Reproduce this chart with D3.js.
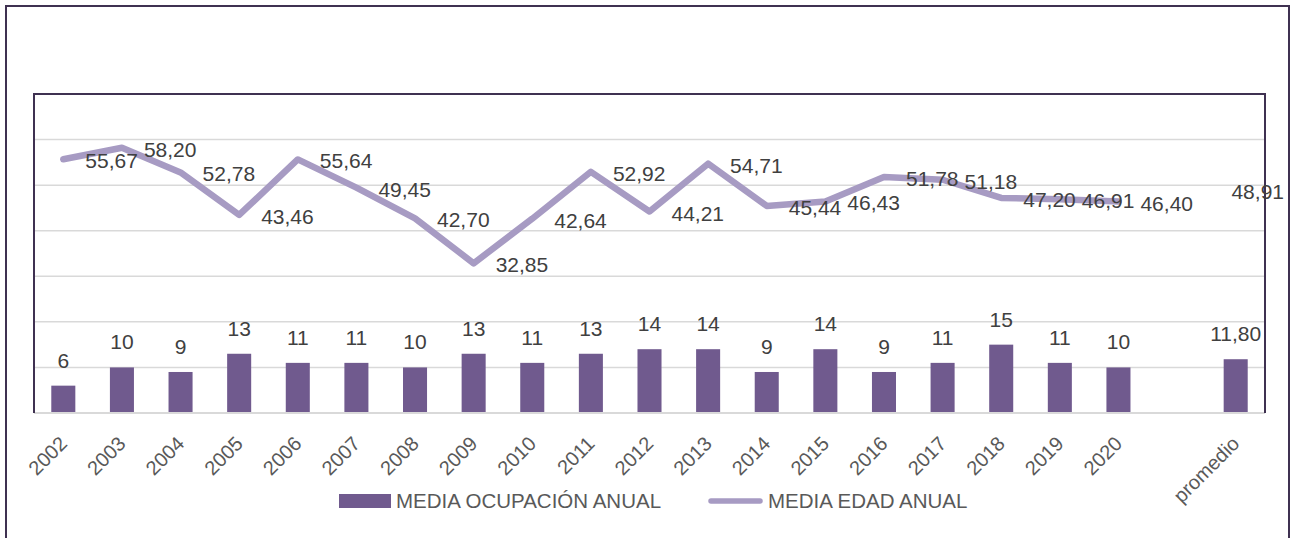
<!DOCTYPE html>
<html>
<head>
<meta charset="utf-8">
<script src="https://cdn.jsdelivr.net/npm/d3@7"></script>
<style>
  body { margin: 0; background: #fff; }
  svg { display: block; font-family: 'Liberation Sans', Arial, sans-serif; }
</style>
</head>
<body>
<svg width="1293" height="538"></svg>
<script>
const categories = ['2002', '2003', '2004', '2005', '2006', '2007', '2008', '2009', '2010', '2011',
  '2012', '2013', '2014', '2015', '2016', '2017', '2018', '2019', '2020', '', 'promedio']
const ocupacion = [6, 10, 9, 13, 11, 11, 10, 13, 11, 13, 14, 14, 9, 14, 9, 11, 15, 11, 10, null, 11.80]
const edad = [55.67, 58.20, 52.78, 43.46, 55.64, 49.45, 42.70, 32.85, 42.64, 52.92, 44.21, 54.71,
  45.44, 46.43, 51.78, 51.18, 47.20, 46.91, 46.40, null, 48.91]
const yTicks = [10, 20, 30, 40, 50, 60]
const legendNames = ['MEDIA OCUPACIÓN ANUAL', 'MEDIA EDAD ANUAL']

const barColor = '#705a8e'
const lineColor = '#a79bc3'
const frameColor = '#3f3151'

const svg = d3.select('svg')
const plot = { left: 34, right: 1265, top: 94, bottom: 413 }

const x = d3.scaleBand().domain(categories)
  .range([plot.left, plot.right])
  .paddingInner(0.59).paddingOuter(0.295)
const y = d3.scaleLinear().domain([0, 70]).range([plot.bottom, plot.top])
const cx = c => x(c) + x.bandwidth() / 2

const fmt = v => Number.isInteger(v) ? String(v) : v.toFixed(2).replace('.', ',')
const fmt2 = v => v.toFixed(2).replace('.', ',')

// Outer chart frame (bottom edge runs past the picture)
svg.append('rect')
  .attr('x', 6).attr('y', 6).attr('width', 1283).attr('height', 600)
  .attr('fill', 'none').attr('stroke', frameColor).attr('stroke-width', 2)

// Gridlines
svg.append('g')
  .selectAll('line').data(yTicks).enter().append('line')
  .attr('x1', plot.left).attr('x2', plot.right)
  .attr('y1', d => y(d)).attr('y2', d => y(d))
  .attr('stroke', '#d9d9d9').attr('stroke-width', 1.5)

// Bars
const rows = categories.map((c, i) => ({ c, bar: ocupacion[i], line: edad[i] }))

svg.append('g')
  .selectAll('rect').data(rows.filter(d => d.bar != null)).enter().append('rect')
  .attr('x', d => x(d.c))
  .attr('width', x.bandwidth())
  .attr('y', d => y(d.bar))
  .attr('height', d => y(0) - y(d.bar))
  .attr('fill', barColor)

svg.append('g')
  .selectAll('text').data(rows.filter(d => d.bar != null)).enter().append('text')
  .attr('x', d => cx(d.c))
  .attr('y', d => y(d.bar) - 18)
  .attr('text-anchor', 'middle')
  .attr('font-size', 21)
  .attr('fill', '#404040')
  .text(d => fmt(d.bar))

// Axis line at the bottom
svg.append('line')
  .attr('x1', plot.left).attr('x2', plot.right)
  .attr('y1', plot.bottom).attr('y2', plot.bottom)
  .attr('stroke', '#d9d9d9').attr('stroke-width', 2)

// Plot area border (left, top, right)
svg.append('path')
  .attr('d', `M${plot.left},${plot.bottom}V${plot.top}H${plot.right}V${plot.bottom}`)
  .attr('fill', 'none').attr('stroke', frameColor).attr('stroke-width', 2)

// Line: only draw runs of 2+ points, a lone point has no marker
const segments = []
let run = []
rows.forEach(d => {
  if (d.line == null) { if (run.length) segments.push(run); run = [] } else run.push(d)
})
if (run.length) segments.push(run)

const lineGen = d3.line().x(d => cx(d.c)).y(d => y(d.line))
svg.append('g')
  .selectAll('path').data(segments.filter(s => s.length > 1)).enter().append('path')
  .attr('d', lineGen)
  .attr('fill', 'none')
  .attr('stroke', lineColor)
  .attr('stroke-width', 6.5)
  .attr('stroke-linejoin', 'round')
  .attr('stroke-linecap', 'round')

// Line labels, placed right of each point and kept inside the chart
svg.append('g')
  .selectAll('text').data(rows.filter(d => d.line != null)).enter().append('text')
  .attr('x', d => cx(d.c) + 22)
  .attr('y', d => y(d.line) + 9)
  .attr('font-size', 21)
  .attr('fill', '#404040')
  .text(d => fmt2(d.line))
  .each(function () {
    const w = this.getComputedTextLength()
    const x0 = +this.getAttribute('x')
    if (x0 + w > 1284) this.setAttribute('x', 1284 - w)
  })

// Category labels
svg.append('g')
  .selectAll('text').data(categories.filter(c => c !== '')).enter().append('text')
  .attr('transform', c => `translate(${cx(c) + 5},445) rotate(-45)`)
  .attr('text-anchor', 'end')
  .attr('font-size', 20)
  .attr('fill', '#595959')
  .text(c => c)

// Legend
const legend = svg.append('g')
legend.append('rect')
  .attr('x', 339).attr('y', 494).attr('width', 52).attr('height', 14)
  .attr('fill', barColor)
legend.append('text')
  .attr('x', 396).attr('y', 508)
  .attr('font-size', 20.5).attr('fill', '#595959')
  .text(legendNames[0])
legend.append('line')
  .attr('x1', 711).attr('x2', 760).attr('y1', 501).attr('y2', 501)
  .attr('stroke', lineColor).attr('stroke-width', 5.5).attr('stroke-linecap', 'round')
legend.append('text')
  .attr('x', 768).attr('y', 508)
  .attr('font-size', 20.5).attr('fill', '#595959')
  .text(legendNames[1])
</script>
</body>
</html>
